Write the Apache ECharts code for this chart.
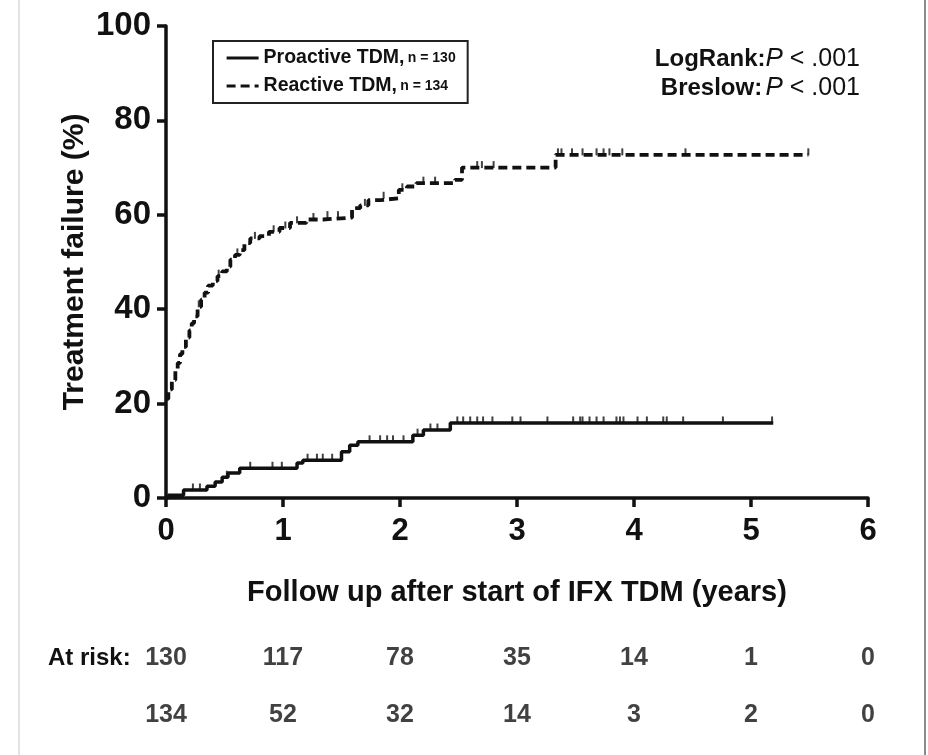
<!DOCTYPE html>
<html>
<head>
<meta charset="utf-8">
<script src="https://cdn.jsdelivr.net/npm/echarts@6/dist/echarts.min.js"></script>
<style>
  html, body { margin: 0; padding: 0; background: #fff; }
  #chart { width: 928px; height: 755px; }
</style>
</head>
<body>
<div id="chart"></div>
<script>
// Cumulative treatment failure (%) after start of IFX therapeutic drug monitoring
const groupNames = ['Proactive TDM', 'Reactive TDM'];
const groupSizes = [130, 134];

// Proactive TDM: event times (years) and cumulative failure after each step (%)
const proactiveTimes = [0, 0.02, 0.15, 0.35, 0.42, 0.48, 0.53, 0.63, 1.12, 1.17, 1.50, 1.57, 1.64, 2.11, 2.20, 2.43, 5.19];
const proactiveFail  = [0, 0.6, 1.7, 2.5, 3.4, 4.4, 5.3, 6.3, 7.4, 8.0, 9.8, 11.2, 11.9, 13.3, 14.4, 15.9, 15.9];

// Reactive TDM
const reactiveTimes = [0, 0.02, 0.05, 0.08, 0.10, 0.12, 0.14, 0.17, 0.20, 0.22, 0.24, 0.27, 0.30, 0.33, 0.36, 0.40, 0.44, 0.48, 0.52, 0.55, 0.59, 0.63, 0.67, 0.72, 0.80, 0.88, 0.97, 1.06, 1.20, 1.34, 1.59, 1.66, 1.73, 1.83, 1.99, 2.06, 2.14, 2.47, 2.53, 3.33, 5.49];
const reactiveFail  = [21, 23, 25, 27, 28.6, 30.5, 32, 34, 35.5, 37, 38.5, 40.5, 42, 43.5, 45, 46, 47, 48, 49, 50.5, 51.5, 52.5, 54, 55, 55.5, 56.4, 57.2, 58.3, 59, 59.4, 61.4, 62, 63.1, 63.5, 65.3, 66, 66.7, 67.4, 70, 72.7, 72.7];

// Censored observations (years)
const proactiveCensored = [0.23, 0.29, 0.52, 0.72, 0.91, 0.99, 1.21, 1.29, 1.34, 1.42, 1.74, 1.83, 1.89, 1.94, 2.03, 2.15, 2.26, 2.32, 2.49, 2.54, 2.60, 2.66, 2.71, 2.79, 2.96, 3.03, 3.26, 3.48, 3.54, 3.56, 3.62, 3.68, 3.74, 3.85, 3.88, 3.91, 4.03, 4.11, 4.25, 4.28, 4.42, 4.76, 5.18];
const reactiveCensored = [0.28, 0.45, 0.61, 0.76, 0.92, 1.02, 1.12, 1.26, 1.38, 1.47, 1.70, 1.86, 2.02, 2.20, 2.30, 2.66, 2.70, 2.80, 3.35, 3.38, 3.47, 3.56, 3.68, 3.74, 3.79, 3.90, 4.44, 5.49];

// Numbers at risk at each whole year
const riskYears = [0, 1, 2, 3, 4, 5, 6];
const atRiskProactive = [130, 117, 78, 35, 14, 1, 0];
const atRiskReactive  = [134, 52, 32, 14, 3, 2, 0];

const FONT = '"Liberation Sans", Arial, Helvetica, sans-serif';
const NARROW = '"Liberation Sans Narrow", "Liberation Sans", Arial, sans-serif';
const INK = '#111';

function pairs(t, y) { return t.map((v, i) => [v, y[i]]); }
// value of a step curve at time x (last step at or before x)
function stepValue(t, y, x) {
  let v = y[0];
  for (let i = 0; i < t.length; i++) { if (t[i] <= x) v = y[i]; }
  return v;
}
function censorPoints(ct, t, y) { return ct.map(x => [x, stepValue(t, y, x)]); }

const riskData = [];
riskYears.forEach((yr, i) => {
  riskData.push([yr, 0, atRiskProactive[i]]);
  riskData.push([yr, 1, atRiskReactive[i]]);
});

const chart = echarts.init(document.getElementById('chart'), null, { renderer: 'canvas' });

const pRich = {
  b: { fontFamily: FONT, fontWeight: 'bold', fontSize: 24, fill: INK },
  i: { fontFamily: FONT, fontStyle: 'italic', fontSize: 26, fill: INK },
  r: { fontFamily: FONT, fontSize: 25, fill: INK }
};

const option = {
  backgroundColor: '#fff',
  animation: false,
  grid: [
    { left: 166, top: 26, width: 702, height: 472, containLabel: false },
    { left: 166, top: 630, width: 702, height: 114, containLabel: false }
  ],
  legend: {
    data: groupNames,
    orient: 'vertical',
    left: 213,
    top: 41,
    padding: [7, 12, 7, 12],
    itemGap: 8,
    itemWidth: 32,
    itemHeight: 14,
    borderColor: '#222',
    borderWidth: 2,
    itemStyle: { color: 'rgba(0,0,0,0)', borderWidth: 0 },
    lineStyle: { width: 3.2, color: INK },
    formatter: function (name) {
      const n = groupSizes[groupNames.indexOf(name)];
      return '{a|' + name + ',} {b|n = ' + n + '}';
    },
    textStyle: {
      color: INK,
      rich: {
        a: { fontFamily: FONT, fontWeight: 'bold', fontSize: 19.5, color: INK },
        b: { fontFamily: FONT, fontWeight: 'bold', fontSize: 14, color: INK }
      }
    }
  },
  xAxis: [
    {
      gridIndex: 0,
      type: 'value',
      min: 0, max: 6, interval: 1,
      name: 'Follow up after start of IFX TDM (years)',
      nameLocation: 'middle',
      nameGap: 80,
      nameMoveOverlap: false,
      nameTextStyle: { fontFamily: FONT, fontWeight: 'bold', fontSize: 29, color: INK },
      axisLine: { lineStyle: { color: INK, width: 3.5 } },
      axisTick: { length: 9, lineStyle: { color: INK, width: 3.5 } },
      axisLabel: { fontFamily: FONT, fontWeight: 'bold', fontSize: 31, color: INK, margin: 18 },
      splitLine: { show: false }
    },
    {
      gridIndex: 1,
      type: 'value',
      min: 0, max: 6, interval: 1,
      show: false
    }
  ],
  yAxis: [
    {
      gridIndex: 0,
      type: 'value',
      min: 0, max: 100, interval: 20,
      name: 'Treatment failure (%)',
      nameLocation: 'middle',
      nameGap: 76,
      nameMoveOverlap: false,
      nameTextStyle: { fontFamily: FONT, fontWeight: 'bold', fontSize: 30, color: INK },
      axisLine: { show: true, lineStyle: { color: INK, width: 3.5 } },
      axisTick: { show: true, length: 9, lineStyle: { color: INK, width: 3.5 } },
      axisLabel: { fontFamily: FONT, fontWeight: 'bold', fontSize: 33, color: INK, margin: 15 },
      splitLine: { show: false }
    },
    {
      gridIndex: 1,
      type: 'category',
      data: ['proactive', 'reactive'],
      inverse: true,
      show: false
    }
  ],
  series: [
    {
      name: groupNames[0],
      type: 'line',
      step: 'end',
      xAxisIndex: 0, yAxisIndex: 0,
      data: pairs(proactiveTimes, proactiveFail),
      symbol: 'none',
      lineStyle: { color: INK, width: 3.5, type: 'solid' },
      itemStyle: { color: INK },
      z: 3
    },
    {
      name: groupNames[1],
      type: 'line',
      step: 'end',
      xAxisIndex: 0, yAxisIndex: 0,
      data: pairs(reactiveTimes, reactiveFail),
      symbol: 'none',
      lineStyle: { color: INK, width: 3.8, type: [9, 5] },
      itemStyle: { color: INK },
      z: 3
    },
    {
      name: 'proactive censored',
      type: 'scatter',
      xAxisIndex: 0, yAxisIndex: 0,
      data: censorPoints(proactiveCensored, proactiveTimes, proactiveFail),
      symbol: 'rect',
      symbolSize: [2, 7],
      symbolOffset: [0, -3],
      itemStyle: { color: INK },
      silent: true,
      z: 4
    },
    {
      name: 'reactive censored',
      type: 'scatter',
      xAxisIndex: 0, yAxisIndex: 0,
      data: censorPoints(reactiveCensored, reactiveTimes, reactiveFail),
      symbol: 'rect',
      symbolSize: [2, 7],
      symbolOffset: [0, -3],
      itemStyle: { color: INK },
      silent: true,
      z: 4
    },
    {
      name: 'at risk',
      type: 'scatter',
      xAxisIndex: 1, yAxisIndex: 1,
      data: riskData,
      symbolSize: 1,
      itemStyle: { color: 'rgba(0,0,0,0)' },
      label: {
        show: true,
        position: 'inside',
        formatter: p => String(p.value[2]),
        fontFamily: NARROW,
        fontWeight: 'bold',
        fontSize: 25,
        color: INK
      },
      silent: true
    }
  ],
  graphic: [
    {
      type: 'text',
      x: 48, y: 658,
      style: {
        text: 'At risk:',
        fontFamily: NARROW, fontWeight: 'bold', fontSize: 24,
        fill: INK, align: 'left', verticalAlign: 'middle'
      }
    },
    {
      type: 'text',
      x: 860, y: 59,
      style: { text: '{b|LogRank:}{i|P}{r| < .001}', align: 'right', verticalAlign: 'middle', rich: pRich }
    },
    {
      type: 'text',
      x: 860, y: 88,
      style: { text: '{b|Breslow:} {i|P}{r| < .001}', align: 'right', verticalAlign: 'middle', rich: pRich }
    },
    {
      type: 'line',
      shape: { x1: 19, y1: 0, x2: 19, y2: 755 },
      style: { stroke: '#d8d8d8', lineWidth: 1.5 }
    },
    {
      type: 'line',
      shape: { x1: 925, y1: 0, x2: 925, y2: 755 },
      style: { stroke: '#8a8a8a', lineWidth: 2 }
    }
  ]
};

chart.setOption(option);
</script>
</body>
</html>
